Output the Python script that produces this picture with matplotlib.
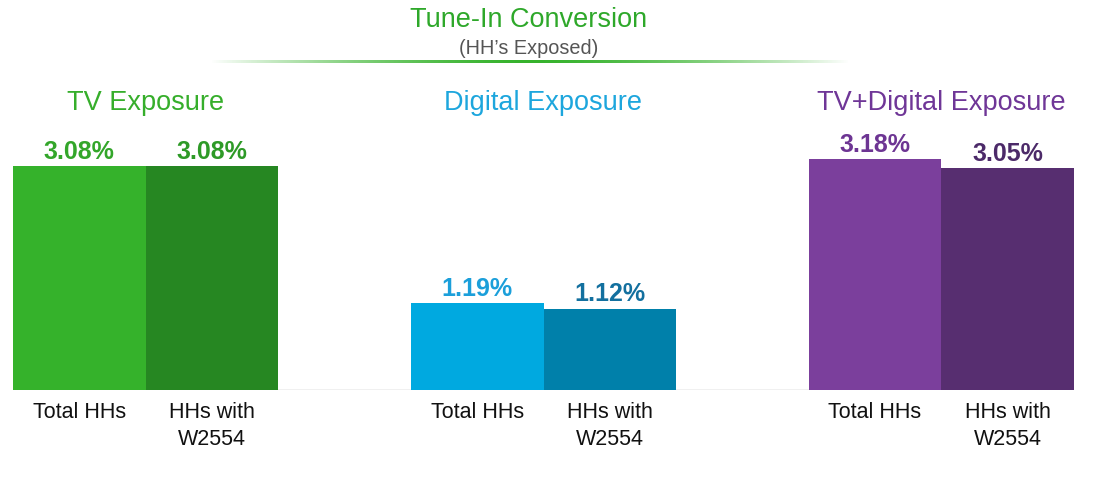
import matplotlib
matplotlib.use("Agg")
import matplotlib.pyplot as plt
import numpy as np

plt.rcParams['font.family'] = ['Liberation Sans', 'DejaVu Sans']

# ---- data ----
groups = ["TV Exposure", "Digital Exposure", "TV+Digital Exposure"]
categories = ["Total HHs", "HHs with\nW2554"]
total_hhs = [3.08, 1.19, 3.18]
hhs_w2554 = [3.08, 1.12, 3.05]
value_labels_total = ["3.08%", "1.19%", "3.18%"]
value_labels_w2554 = ["3.08%", "1.12%", "3.05%"]

# ---- styles ----
bar_colors = [("#35B22B", "#268722"), ("#00A9E0", "#0080AA"), ("#7B3F9C", "#572E70")]
label_colors = [("#33A62A", "#2E9A27"), ("#1B9FDA", "#13709F"), ("#6D3593", "#4C2A69")]
title_colors = ["#36AE2B", "#1DA6DD", "#6F3697"]

W, H = 1100, 479
fig = plt.figure(figsize=(W / 100, H / 100), dpi=100)

px_per_unit_y = 72.7
ymax = 4.0
left_px, right_px, base_px = 13, 1074, 390
ax_h = ymax * px_per_unit_y
ax = fig.add_axes([left_px / W, (H - base_px) / H, (right_px - left_px) / W, ax_h / H])
ax.set_xlim(0, 8)
ax.set_ylim(0, ymax)
ax.axis("off")

# faint baseline
ax.axhline(0, color="#EEEEEE", lw=1.2, zorder=0)

for g in range(3):
    x0 = g * 3
    vals = [total_hhs[g], hhs_w2554[g]]
    labs = [value_labels_total[g], value_labels_w2554[g]]
    for i in range(2):
        ax.bar(x0 + i + 0.5, vals[i], width=1.0, color=bar_colors[g][i], linewidth=0, zorder=2)
        ax.annotate(labs[i], (x0 + i + 0.5, vals[i]), xytext=(0, 1.5), textcoords="offset points",
                    ha="center", va="bottom", fontsize=18, fontweight="bold",
                    color=label_colors[g][i])
        ax.annotate(categories[i], (x0 + i + 0.5, 0), xytext=(0, -9), textcoords="offset points",
                    ha="center", va="top", fontsize=15.5, color="#111111", linespacing=1.33,
                    annotation_clip=False)
    # group title
    fig.text((left_px + (x0 + 1) * (right_px - left_px) / 8) / W, 1 - 103 / H, groups[g],
             ha="center", va="center", fontsize=19.5, color=title_colors[g])

# main title
fig.text(529 / W, 1 - 20 / H, "Tune-In Conversion", ha="center", va="center",
         fontsize=19.5, color="#2EA82A")
fig.text(529 / W, 1 - 48 / H, "(HH\u2019s Exposed)", ha="center", va="center",
         fontsize=14.3, color="#555555")

# gradient line
lax = fig.add_axes([210 / W, 1 - 63 / H, 640 / W, 3 / H])
n = 400
t = np.linspace(-1, 1, n)
alpha = np.clip(1 - np.abs(t) ** 1.6, 0, 1)
img = np.zeros((1, n, 4))
img[..., 0] = 0.21
img[..., 1] = 0.70
img[..., 2] = 0.17
img[..., 3] = alpha
lax.imshow(img, aspect="auto", extent=(0, 1, 0, 1), interpolation="bilinear")
lax.axis("off")

fig.savefig("out.png", dpi=100, facecolor="white")
